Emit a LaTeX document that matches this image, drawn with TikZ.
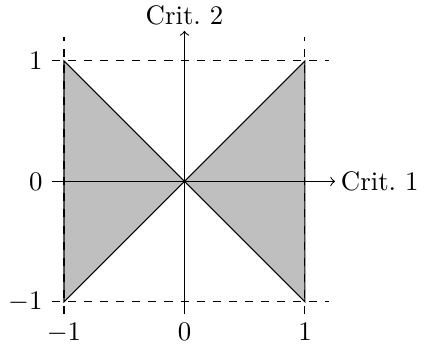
\documentclass[tikz,border=0pt]{standalone}
\usepackage{tikz}
\usetikzlibrary{arrows,positioning}

\begin{document}
\begin{tikzpicture}[
			x=1.58cm, y=1.58cm,
			region/.style={fill=gray!50, draw=black},
			guide/.style={dashed},
			axis/.style={->},
			thin
			]
			\useasboundingbox (-1.531,-1.390) rectangle (1.988,1.506);
			
			% Regiões
			\fill[region] (-1,1) -- (0,0) -- (-1,-1) -- cycle;
			\fill[region] (1,1) -- (0,0) -- (1,-1) -- cycle;
			
			% Eixos
			\coordinate (o) at (0,0);
			\coordinate (xs) at (-1.1,0);
			\coordinate (ys) at (0,-1.1);
			\node[right, inner sep=2pt] (c1) at (1.25,0) {Crit.~1};
			\node[above, inner sep=2pt] (c2) at (0,1.25) {Crit.~2};
			\draw[axis] (xs) -- (c1.west);
			\draw[axis] (ys) -- (c2.south);
			
			% Linhas de grade
			\foreach \v in {-1,0,1} {
				\draw[guide] (\v,-1.1) -- (\v,1.2);
				\node[below] (tx\v) at (\v,-1.1) {$\v$};
			}
			\foreach \v in {-1,1} {
				\draw[guide] (-1.1,\v) -- (1.2,\v);
			}
			\foreach \v in {-1,0,1} {
				\node[left] (ty\v) at (-1.1,\v) {$\v$};
			}
			
		\end{tikzpicture}
\end{document}
